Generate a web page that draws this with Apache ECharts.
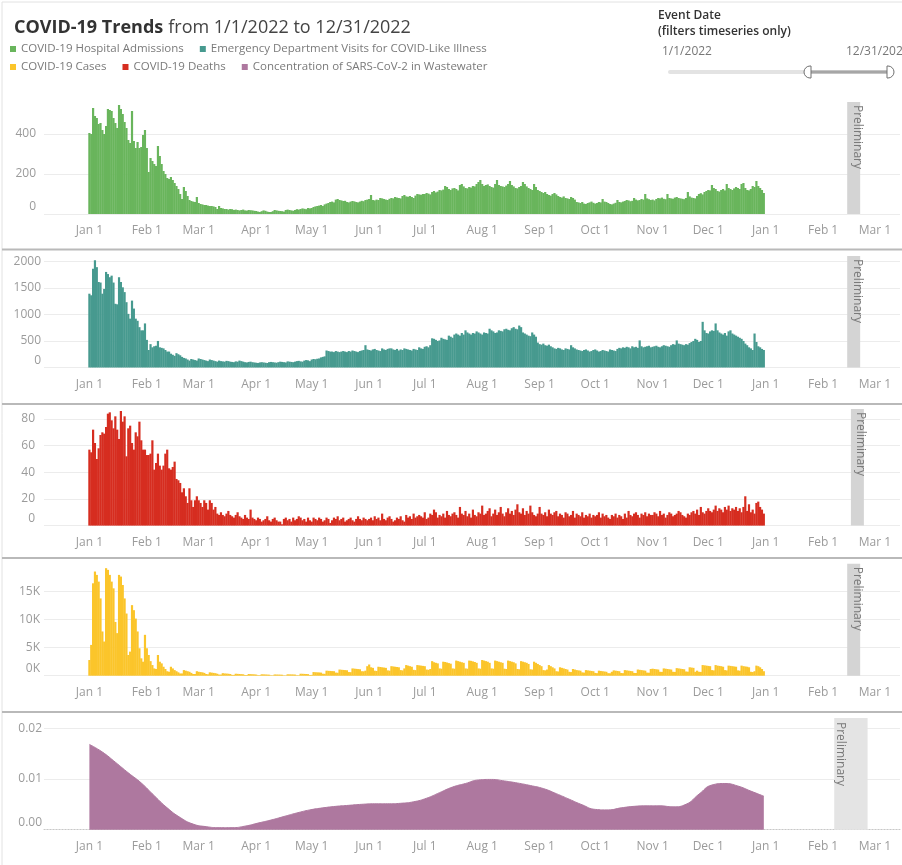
<!DOCTYPE html>
<html>
<head>
<meta charset="utf-8">
<script src="https://cdn.jsdelivr.net/npm/echarts@6.0.0/dist/echarts.min.js"></script>
<style>
  html, body { margin: 0; padding: 0; background: #ffffff; }
  #chart { width: 902px; height: 865px; }
</style>
</head>
<body>
<div id="chart"></div>
<script>
// ---------------- DATA ----------------
const MONTHS = ['Jan','Feb','Mar','Apr','May','Jun','Jul','Aug','Sep','Oct','Nov','Dec'];

// Daily values, 1/1/2022 .. 12/31/2022 (one line per month)
const hospAdmissions = [
  405,400,530,490,480,450,455,420,400,440,525,520,515,480,455,430,545,525,500,460,430,370,355,515,365,330,360,330,335,395,420,
  330,210,280,265,250,240,340,290,250,215,200,180,175,185,170,155,140,125,100,75,135,115,90,70,65,62,60,85,
  55,50,48,45,45,42,40,40,38,35,25,40,30,28,25,25,22,25,24,20,22,20,18,20,22,18,17,20,19,18,16,
  15,12,10,14,18,16,12,10,10,14,20,18,16,15,14,12,20,22,20,18,16,20,24,22,25,28,26,24,30,28,
  30,35,38,40,42,45,40,48,52,55,60,62,58,72,75,70,68,65,66,60,58,62,65,63,60,58,62,66,64,70,72,
  75,95,70,68,72,70,80,78,75,72,70,76,80,78,85,82,80,78,90,95,88,86,90,85,80,92,100,98,96,100,
  100,105,102,98,110,115,108,112,120,118,122,140,135,125,120,128,130,125,118,145,150,138,130,128,135,132,140,138,150,160,170,
  150,140,145,148,140,135,132,150,170,145,140,138,135,142,150,165,145,138,130,128,135,140,160,150,138,130,125,120,150,135,120,
  115,110,105,110,100,95,92,100,105,98,90,85,82,88,80,78,75,85,80,72,60,58,55,60,52,50,55,58,62,56,
  52,55,60,58,75,62,60,55,50,48,52,56,70,60,58,62,65,70,68,64,66,80,72,68,70,75,72,100,78,74,70,
  72,68,75,80,78,82,76,74,100,80,78,76,82,85,80,78,76,74,80,110,88,82,80,78,90,100,104,98,110,115,
  120,118,145,130,125,115,112,120,125,118,150,130,125,120,128,135,130,125,150,155,130,120,118,125,140,135,165,140,130,120,105
];

const edVisits = [
  1390,1360,1860,2020,1890,1610,1600,1390,1480,1800,1760,1700,1730,1600,1200,1190,1700,1610,1510,1420,1230,1010,920,1260,1110,920,880,760,700,700,830,
  520,330,440,380,400,410,500,380,370,360,330,300,300,260,240,220,270,250,230,200,180,170,150,130,160,150,140,130,
  170,160,150,140,130,120,150,140,130,120,110,130,120,115,110,125,120,110,105,100,115,110,130,120,110,100,95,105,110,100,95,
  90,85,95,100,95,90,85,100,105,100,95,90,100,110,105,100,95,115,110,105,100,110,120,125,115,110,130,140,135,120,
  150,160,155,165,170,190,200,210,320,310,300,300,290,310,300,290,300,310,300,290,310,300,320,310,300,290,310,320,330,420,340,
  330,320,340,350,330,320,310,360,340,330,350,360,360,340,330,350,320,340,330,360,350,340,330,320,350,340,330,380,360,350,
  390,400,380,420,550,540,520,500,510,560,540,530,520,600,580,560,620,640,620,600,650,620,700,660,640,620,650,640,680,660,640,
  620,660,650,640,730,700,680,650,660,700,690,680,720,730,710,700,740,760,730,720,790,760,660,640,620,600,590,660,620,580,470,
  440,430,450,420,410,430,400,380,360,350,370,360,340,330,360,350,340,420,380,360,340,330,320,310,330,340,320,300,310,330,
  340,320,300,310,330,320,310,300,340,330,320,310,350,370,360,380,370,390,380,360,400,380,390,370,510,400,380,390,400,410,380,
  390,400,410,390,380,400,420,410,400,390,420,440,430,510,450,440,430,420,440,430,460,480,500,540,520,480,500,860,700,650,
  640,680,700,690,830,700,660,640,620,650,600,680,700,640,620,600,580,560,540,500,450,420,380,360,330,640,480,400,380,350,330
];

const deaths = [
  57,55,72,62,50,58,68,70,69,74,84,85,79,73,82,72,65,86,78,82,52,73,75,62,57,70,67,78,64,57,57,
  53,53,54,64,42,47,54,45,42,45,54,57,43,42,44,48,35,34,32,25,28,22,17,28,19,14,19,22,
  19,17,14,19,17,12,19,17,12,14,9,8,10,8,7,9,11,8,7,6,8,10,7,6,5,8,6,5,12,6,5,
  4,6,5,3,4,5,7,4,3,5,6,4,3,3,1,5,6,4,5,3,6,4,5,7,6,4,5,3,6,4,
  3,6,5,4,6,5,3,4,6,5,2,4,6,5,7,4,5,6,3,4,5,6,4,3,5,7,5,4,6,5,4,
  5,6,4,7,5,6,4,9,5,4,6,7,5,3,4,6,5,7,4,3,8,6,7,5,9,6,7,8,7,6,
  10,5,6,9,8,12,10,6,8,7,9,6,11,8,7,9,10,8,6,14,9,8,11,7,9,6,12,8,7,10,9,
  15,8,9,11,13,7,9,12,8,10,14,9,7,10,13,9,11,8,12,16,10,9,13,8,11,9,15,10,8,7,9,
  14,9,8,10,7,12,9,8,10,11,7,9,8,6,10,9,7,8,11,6,9,8,7,10,6,8,7,9,6,8,
  7,8,10,6,9,7,8,6,5,8,7,9,6,8,7,5,9,6,11,8,7,9,10,8,6,9,8,10,7,9,8,
  8,10,9,7,11,8,9,6,8,10,9,7,8,9,11,10,8,7,6,9,8,10,11,9,12,8,14,10,9,11,
  13,11,10,12,15,11,13,12,10,14,12,15,11,13,12,14,11,13,10,14,22,11,16,10,12,9,17,18,14,12,9
];

const cases = [
  2800,5500,16500,18600,18000,16800,13800,7900,6100,19200,18900,18000,16800,15600,9600,7600,18000,17700,16200,13800,11100,3700,4300,12600,11700,10200,7900,4900,3100,2500,7300,
  4900,3700,2600,1900,1300,1200,3700,2500,2200,1600,1200,800,700,1600,1300,1000,800,600,400,400,1000,900,800,700,500,300,300,800,
  700,650,600,500,300,250,600,550,500,450,350,200,200,450,400,380,350,300,150,150,350,330,300,280,250,120,120,300,280,260,240,
  200,100,100,250,240,220,200,180,80,80,220,210,200,190,170,70,70,250,240,230,220,200,90,90,350,340,320,300,280,120,
  150,650,620,600,580,550,350,340,900,870,850,820,800,550,530,1100,1060,1030,1000,970,650,630,1300,1260,1220,1180,1150,800,780,900,1700,
  2000,1500,1400,900,850,1600,1550,1500,1450,1400,950,900,1700,1650,1600,1550,1500,1000,950,1300,1900,1800,1700,1600,1050,1000,1900,1850,1800,1750,
  1700,1100,1050,1200,2600,2400,2300,2200,1300,1250,2500,2450,2350,2250,2150,1300,1250,2700,2600,2500,2400,2300,1300,1250,2700,2650,2550,2450,2300,1300,1250,
  2800,2700,2600,2500,2300,1300,1250,2700,2600,2500,2400,2300,1250,1200,2700,2600,2500,2400,2200,1200,1150,2600,2500,2400,2300,2100,1150,1100,2500,2300,2100,
  1900,1700,1000,950,1100,1900,1700,1500,1300,800,750,1500,1400,1300,1200,1100,700,650,1200,1100,1000,950,900,600,550,1000,950,900,850,800,
  500,450,900,850,800,750,700,450,430,700,950,900,850,800,480,450,1000,950,900,850,800,500,480,1100,1050,1000,950,900,550,530,1200,
  1250,1200,1150,1100,700,680,1300,1250,1200,1150,1100,700,680,1350,1300,1250,1200,1150,750,720,1500,1450,1400,700,900,700,680,1900,1850,1800,
  1750,1700,1000,950,1900,1800,1750,1700,1600,1000,950,1800,1750,1700,1650,1600,950,900,1800,1700,1650,1600,1500,700,650,800,1800,1700,1500,1200,800
];

// Wastewater concentration (smooth curve), sampled weekly
const wwDates = [
  '2022-01-01','2022-01-08','2022-01-15','2022-01-22','2022-01-29','2022-02-05','2022-02-12','2022-02-19','2022-02-26',
  '2022-03-05','2022-03-12','2022-03-19','2022-03-26','2022-04-02','2022-04-09','2022-04-16','2022-04-23','2022-04-30',
  '2022-05-07','2022-05-14','2022-05-21','2022-05-28','2022-06-04','2022-06-11','2022-06-18','2022-06-25',
  '2022-07-02','2022-07-09','2022-07-16','2022-07-23','2022-07-30','2022-08-06','2022-08-13','2022-08-20','2022-08-27',
  '2022-09-03','2022-09-10','2022-09-17','2022-09-24','2022-10-01','2022-10-08','2022-10-15','2022-10-22','2022-10-29',
  '2022-11-05','2022-11-12','2022-11-19','2022-11-26','2022-12-03','2022-12-10','2022-12-17','2022-12-24','2022-12-31'
];
const wwValues = [
  0.0168,0.0153,0.0133,0.0112,0.0092,0.0067,0.0043,0.0024,0.0011,
  0.0006,0.0004,0.0004,0.0007,0.0013,0.0019,0.0026,0.0033,0.0039,
  0.0043,0.0046,0.0048,0.0050,0.0051,0.0051,0.0052,0.0055,
  0.0062,0.0073,0.0084,0.0091,0.0098,0.0099,0.0096,0.0092,0.0087,
  0.0081,0.0071,0.0060,0.0049,0.0040,0.0039,0.0043,0.0046,0.0047,
  0.0047,0.0045,0.0050,0.0070,0.0088,0.0091,0.0086,0.0076,0.0066
];

// Preliminary bands (start, end dates)
const prelimBands = [
  ['2023-02-14','2023-02-21'],
  ['2023-02-14','2023-02-21'],
  ['2023-02-16','2023-02-23'],
  ['2023-02-14','2023-02-21'],
  ['2023-02-07','2023-02-25']
];

// Y axis ranges per panel: [max, interval]
const yRanges = [[560, 200], [2100, 500], [87.5, 20], [20000, 5000], [0.022, 0.01]];

// ---------------- AXIS CATEGORIES ----------------
const AXIS_DAYS = 462;       // 12/8/2021 .. 3/14/2023
function ymd(d) {
  return d.getFullYear() + '-' + String(d.getMonth() + 1).padStart(2, '0') + '-' + String(d.getDate()).padStart(2, '0');
}
const dayCats = [];
for (let i = 0; i < AXIS_DAYS; i++) dayCats.push(ymd(new Date(2021, 11, 8 + i, 12)));
const DATA_OFFSET = dayCats.indexOf('2022-01-01');

// ---------------- STYLE ----------------
const FONT = "'Open Sans', 'Noto Sans', sans-serif";
const LABEL_COLOR = '#9b9b9b';
const COLORS = {
  hosp: '#69b55c', ed: '#479a8f', deaths: '#d62d20', cases: '#fbc52b', ww: '#ae789f'
};
const NAMES = {
  hosp: 'COVID-19 Hospital Admissions',
  ed: 'Emergency Department Visits for COVID-Like Illness',
  cases: 'COVID-19 Cases',
  deaths: 'COVID-19 Deaths',
  ww: 'Concentration of SARS-CoV-2 in Wastewater'
};

const grids = [
  { left: 44, right: 2, top: 102, height: 112 },
  { left: 44, right: 2, top: 256, height: 111.5 },
  { left: 44, right: 2, top: 409, height: 116.6 },
  { left: 44, right: 2, top: 563.7, height: 112 },
  { left: 44, right: 2, top: 718, height: 111.7 }
];

function xAxis(gi, dotted) {
  return {
    type: 'category', gridIndex: gi, data: dayCats, boundaryGap: true,
    axisTick: { show: false },
    axisLine: dotted ? { show: true, lineStyle: { color: '#c8c8c8', type: [1, 2], width: 1 } } : { show: false },
    splitLine: { show: false },
    axisLabel: {
      color: LABEL_COLOR, fontSize: 12, fontFamily: FONT, margin: 11,
      interval: (idx, val) => val.endsWith('-01'),
      formatter: (val) => { const p = val.split('-'); return MONTHS[+p[1] - 1] + ' ' + (+p[2]); }
    }
  };
}

function yAxis(gi, fmt, margin) {
  return {
    type: 'value', gridIndex: gi, min: 0, max: yRanges[gi][0], interval: yRanges[gi][1],
    axisLine: { show: false }, axisTick: { show: false },
    splitLine: { show: true, showMaxLine: false, lineStyle: { color: '#ececec', width: 1 } },
    axisLabel: {
      color: LABEL_COLOR, fontSize: 12, fontFamily: FONT, margin: margin,
      showMaxLabel: false,
      formatter: (v) => v === 0 ? '{z|' + fmt(v) + '}' : fmt(v),
      rich: { z: { padding: [0, 0, 14, 0], color: LABEL_COLOR, fontSize: 12, fontFamily: FONT } }
    }
  };
}

// "Preliminary" band carried by a helper line series (no data) in each panel
function prelimSeries(gi, bandColor, pos) {
  return {
    type: 'line', xAxisIndex: gi, yAxisIndex: gi, data: [], silent: true, z: 1,
    markArea: {
      silent: true,
      itemStyle: { color: bandColor, opacity: 1 },
      label: {
        show: true, position: pos, rotate: -90, align: 'left', verticalAlign: 'middle',
        color: '#7a7a7a', fontSize: 12, fontFamily: FONT
      },
      data: [[
        { name: 'Preliminary', xAxis: prelimBands[gi][0], yAxis: yRanges[gi][0] },
        { xAxis: prelimBands[gi][1], yAxis: 0 }
      ]]
    }
  };
}

function barSeries(key, values, gi) {
  return {
    type: 'bar', name: NAMES[key], xAxisIndex: gi, yAxisIndex: gi,
    data: values.map((v, i) => [dayCats[DATA_OFFSET + i], v]),
    barWidth: 2.2, z: 2,
    itemStyle: { color: COLORS[key] }
  };
}

const legendText = { color: '#7a7a7a', fontSize: 11.5, fontFamily: FONT };

const option = {
  animation: false,
  backgroundColor: '#ffffff',
  title: {
    left: 9, top: 14,
    text: '{b|COVID-19 Trends} {n|from 1/1/2022 to 12/31/2022}',
    textStyle: {
      rich: {
        b: { fontSize: 18, fontWeight: 'bold', color: '#333333', fontFamily: FONT },
        n: { fontSize: 18, fontWeight: 'normal', color: '#444444', fontFamily: FONT }
      }
    }
  },
  legend: [
    { left: 5, top: 38, icon: 'rect', itemWidth: 6, itemHeight: 6, itemGap: 16, selectedMode: false,
      textStyle: legendText, data: [NAMES.hosp, NAMES.ed] },
    { left: 5, top: 56, icon: 'rect', itemWidth: 6, itemHeight: 6, itemGap: 16, selectedMode: false,
      textStyle: legendText, data: [NAMES.cases, NAMES.deaths, NAMES.ww] }
  ],
  grid: grids,
  xAxis: [xAxis(0), xAxis(1), xAxis(2), xAxis(3), xAxis(4, true)],
  yAxis: [
    yAxis(0, v => String(v), 8),
    yAxis(1, v => String(v), 3),
    yAxis(2, v => String(v), 9),
    yAxis(3, v => (v / 1000) + 'K', 4),
    yAxis(4, v => v.toFixed(2), 2)
  ],
  series: [
    barSeries('hosp', hospAdmissions, 0),
    barSeries('ed', edVisits, 1),
    barSeries('deaths', deaths, 2),
    barSeries('cases', cases, 3),
    {
      type: 'line', name: NAMES.ww, xAxisIndex: 4, yAxisIndex: 4, z: 2,
      data: wwDates.map((d, i) => [d, wwValues[i]]),
      smooth: 0.5, symbol: 'none',
      lineStyle: { color: COLORS.ww, width: 1 },
      itemStyle: { color: COLORS.ww },
      areaStyle: { color: COLORS.ww, opacity: 1 }
    },
    prelimSeries(0, '#d4d4d4', [10, 3]),
    prelimSeries(1, '#d4d4d4', [10, 3]),
    prelimSeries(2, '#d4d4d4', [10, 3]),
    prelimSeries(3, '#d4d4d4', [10, 3]),
    prelimSeries(4, '#e4e4e4', [6, 4])
  ],
  graphic: [
    // dashboard border
    { type: 'polyline', silent: true, shape: { points: [[902, 2], [2, 2], [2, 865]] },
      style: { stroke: '#e2e2e2', fill: null, lineWidth: 1 } },
    // panel dividers
    { type: 'line', silent: true, shape: { x1: 2, y1: 249.5, x2: 902, y2: 249.5 }, style: { stroke: '#b9b9b9', lineWidth: 2 } },
    { type: 'line', silent: true, shape: { x1: 2, y1: 404, x2: 902, y2: 404 }, style: { stroke: '#b9b9b9', lineWidth: 2 } },
    { type: 'line', silent: true, shape: { x1: 2, y1: 558, x2: 902, y2: 558 }, style: { stroke: '#b9b9b9', lineWidth: 2 } },
    { type: 'line', silent: true, shape: { x1: 2, y1: 712, x2: 902, y2: 712 }, style: { stroke: '#b9b9b9', lineWidth: 2 } },
    // date filter widget
    { type: 'text', silent: true, left: 658, top: 10,
      style: { text: 'Event Date', font: "600 12px " + FONT, fill: '#333333' } },
    { type: 'text', silent: true, left: 658, top: 26,
      style: { text: '(filters timeseries only)', font: "600 12px " + FONT, fill: '#333333' } },
    { type: 'text', silent: true, left: 662, top: 46,
      style: { text: '1/1/2022', font: "12px " + FONT, fill: '#777777' } },
    { type: 'text', silent: true, left: 846, top: 46,
      style: { text: '12/31/2022', font: "12px " + FONT, fill: '#777777' } },
    { type: 'line', silent: true, shape: { x1: 670, y1: 72, x2: 892, y2: 72 },
      style: { stroke: '#e3e3e3', lineWidth: 4, lineCap: 'round' } },
    { type: 'line', silent: true, shape: { x1: 808, y1: 72, x2: 890, y2: 72 },
      style: { stroke: '#a6a6a6', lineWidth: 3 } },
    { type: 'rect', silent: true, shape: { x: 804, y: 66, width: 7, height: 12, r: [6, 0, 0, 6] },
      style: { fill: '#ffffff', stroke: '#707070', lineWidth: 1 } },
    { type: 'rect', silent: true, shape: { x: 887, y: 66, width: 7, height: 12, r: [0, 6, 6, 0] },
      style: { fill: '#ffffff', stroke: '#707070', lineWidth: 1 } }
  ]
};

const chart = echarts.init(document.getElementById('chart'), null, { renderer: 'canvas' });
chart.setOption(option);
</script>
</body>
</html>
